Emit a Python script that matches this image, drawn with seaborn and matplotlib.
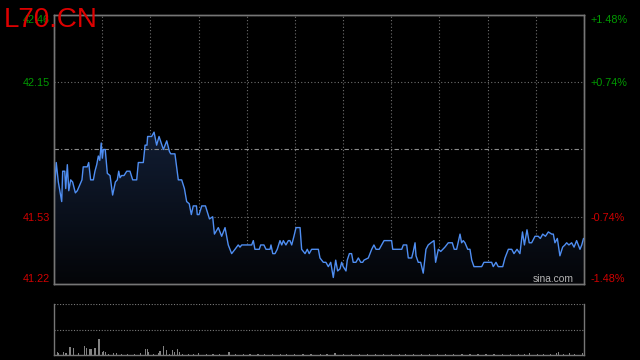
import numpy as np
import pandas as pd
import seaborn as sns
import matplotlib
matplotlib.use("Agg")
import matplotlib.pyplot as plt
from matplotlib.colors import LinearSegmentedColormap

# intraday quote, minutes since open / last price
minutes = [
    0.0, 1.4, 2.7, 4.8, 5.4, 6.7, 7.3, 8.3, 9.2, 10.4,
    11.6, 13.3, 14.5, 16.2, 17.4, 18.2, 20.7, 21.6, 22.8, 24.5,
    25.5, 26.6, 27.6, 28.5, 29.4, 30.1, 30.7, 31.9, 33.2, 34.9,
    36.5, 38.2, 39.4, 40.3, 41.1, 42.1, 43.6, 45.3, 47.3, 49.0,
    51.5, 52.5, 55.6, 56.7, 57.9, 58.3, 60.8, 62.3, 63.9, 65.4,
    68.1, 70.2, 71.9, 72.7, 75.3, 77.4, 79.5, 81.2, 82.6, 84.2,
    85.5, 86.7, 88.7, 89.2, 90.3, 92.0, 94.3, 96.8, 98.8, 99.9,
    102.3, 104.4, 106.5, 108.5, 110.6, 112.7, 114.7, 115.8, 116.9, 123.1,
    124.1, 125.1, 127.8, 128.7, 130.7, 132.0, 134.5, 135.1, 136.2, 137.6,
    139.0, 140.7, 141.8, 142.8, 144.4, 145.9, 146.9, 148.0, 149.4, 150.7,
    153.2, 154.2, 156.3, 157.7, 158.9, 160.4, 164.6, 165.6, 167.7, 169.3,
    170.8, 172.3, 173.9, 175.4, 176.6, 178.1, 179.1, 180.1, 181.8, 182.6,
    183.9, 185.3, 186.3, 188.0, 189.5, 191.0, 192.2, 193.0, 195.7, 197.8,
    199.2, 200.5, 202.5, 204.0, 205.5, 210.2, 210.9, 216.5, 217.5, 219.6,
    220.6, 222.7, 223.7, 224.8, 225.4, 226.8, 228.3, 229.9, 231.6, 233.0,
    234.7, 236.6, 237.6, 239.3, 240.8, 243.4, 245.5, 248.0, 249.2, 250.7,
    252.8, 253.8, 254.8, 255.9, 257.6, 259.0, 260.1, 261.5, 266.3, 267.7,
    269.0, 270.4, 272.5, 273.5, 275.2, 276.6, 279.4, 280.8, 282.9, 285.0,
    286.4, 288.3, 290.1, 291.7, 292.9, 294.5, 295.9, 297.4, 299.5, 301.5,
    302.8, 304.3, 306.0, 307.8, 309.9, 310.9, 311.9, 313.4, 315.0, 316.7,
    318.1, 319.2, 320.6, 322.3, 323.8, 325.4, 327.5, 328.6, 329.7,
]
prices = [
    41.62, 41.78, 41.69, 41.60, 41.74, 41.74, 41.66, 41.77, 41.65, 41.70,
    41.69, 41.64, 41.65, 41.68, 41.70, 41.76, 41.76, 41.78, 41.70, 41.70,
    41.74, 41.77, 41.81, 41.79, 41.87, 41.80, 41.84, 41.84, 41.73, 41.72,
    41.63, 41.69, 41.70, 41.74, 41.71, 41.72, 41.72, 41.74, 41.74, 41.70,
    41.70, 41.78, 41.78, 41.86, 41.86, 41.90, 41.90, 41.92, 41.86, 41.90,
    41.84, 41.88, 41.83, 41.82, 41.82, 41.70, 41.70, 41.66, 41.60, 41.59,
    41.54, 41.58, 41.58, 41.54, 41.54, 41.58, 41.58, 41.52, 41.53, 41.45,
    41.48, 41.44, 41.48, 41.40, 41.36, 41.38, 41.40, 41.39, 41.40, 41.40,
    41.42, 41.38, 41.38, 41.40, 41.40, 41.38, 41.38, 41.40, 41.36, 41.36,
    41.38, 41.42, 41.40, 41.42, 41.40, 41.42, 41.42, 41.40, 41.44, 41.48,
    41.48, 41.38, 41.36, 41.38, 41.36, 41.38, 41.38, 41.34, 41.32, 41.32,
    41.30, 41.32, 41.25, 41.33, 41.28, 41.29, 41.32, 41.30, 41.28, 41.33,
    41.36, 41.36, 41.32, 41.32, 41.34, 41.32, 41.32, 41.33, 41.34, 41.38,
    41.40, 41.38, 41.38, 41.40, 41.42, 41.42, 41.38, 41.38, 41.40, 41.40,
    41.34, 41.34, 41.37, 41.41, 41.35, 41.32, 41.32, 41.27, 41.38, 41.40,
    41.41, 41.42, 41.32, 41.38, 41.37, 41.39, 41.41, 41.41, 41.38, 41.38,
    41.45, 41.41, 41.42, 41.41, 41.38, 41.38, 41.33, 41.30, 41.30, 41.32,
    41.32, 41.32, 41.32, 41.30, 41.32, 41.30, 41.30, 41.34, 41.38, 41.38,
    41.36, 41.38, 41.36, 41.46, 41.40, 41.47, 41.41, 41.41, 41.44, 41.44,
    41.43, 41.45, 41.44, 41.46, 41.45, 41.45, 41.41, 41.43, 41.35, 41.39,
    41.40, 41.41, 41.40, 41.41, 41.39, 41.42, 41.38, 41.40, 41.43,
]

# volume bars (shares)
vol_minute = [0, 2, 3, 6, 7, 8, 10, 12, 15, 19, 20, 22, 23, 25, 26, 28, 30, 31, 32, 37,
              39, 54, 57, 58, 59, 65, 66, 68, 70, 74, 75, 77, 78, 80, 90, 109, 175, 296,
              313, 314, 321, 329]
vol_shares = [2700, 800, 500, 800, 600, 700, 2300, 2200, 500, 2600, 2000, 1700, 1700, 2200,
              2000, 4700, 800, 1300, 1000, 600, 600, 600, 1700, 1700, 1000, 700, 1200, 2700,
              1500, 1500, 800, 1700, 800, 400, 600, 800, 600, 700, 600, 800, 500, 600]
small_minute = [34, 42, 46, 50, 62, 72, 84, 87, 95, 99, 103, 113, 118, 122, 127, 131, 136,
                141, 145, 150, 155, 160, 166, 170, 180, 185, 190, 195, 200, 205, 210, 215,
                219, 224, 229, 234, 239, 244, 249, 254, 259, 264, 269, 274, 279, 284, 289,
                293, 301, 305, 309, 317, 324]
small_shares = [300, 200, 300, 200, 400, 300, 200, 300, 200, 300, 400, 300, 200, 300, 200,
                300, 200, 300, 300, 200, 300, 200, 300, 200, 300, 200, 300, 200, 300, 200,
                400, 200, 300, 200, 300, 200, 300, 200, 300, 400, 200, 300, 200, 300, 200,
                300, 200, 300, 200, 300, 400, 300, 200]

prev_close = 41.84
price_ticks = [41.22, 41.53, 42.15, 42.46]
session_minutes = 330

GREEN = "#009a00"
RED = "#d00000"
GRID = "#6e6e6e"

sns.set_theme(style="dark", rc={"figure.facecolor": "black", "axes.facecolor": "black",
                                "axes.edgecolor": "#767676", "savefig.facecolor": "black"})
plt.rcParams["font.family"] = ["Liberation Sans", "DejaVu Sans"]

fig = plt.figure(figsize=(6.4, 3.6), dpi=100)
ax = fig.add_axes([54 / 640, 1 - 284 / 360, 530 / 640, 269 / 360])
axv = fig.add_axes([54 / 640, 1 - 355 / 360, 530 / 640, 51 / 360])

df = pd.DataFrame({"minute": minutes, "price": prices})
lo, hi = price_ticks[0], price_ticks[-1]

# dark gradient under the price line
poly = ax.fill_between(df["minute"], df["price"], lo, facecolor="none", edgecolor="none")
cmap = LinearSegmentedColormap.from_list("fade", ["#040508", "#111d33"])
im = ax.imshow(np.linspace(0, 1, 256).reshape(-1, 1), extent=[0, session_minutes, lo, df["price"].max()],
               origin="lower", aspect="auto", cmap=cmap, zorder=1)
im.set_clip_path(poly.get_paths()[0], transform=ax.transData)

sns.lineplot(data=df, x="minute", y="price", ax=ax, color="#4f8ef2", linewidth=1.0,
             estimator=None, zorder=3)
ax.axhline(prev_close, color="#8c8c8c", linestyle=(0, (4, 2, 1, 2)), linewidth=0.8, zorder=2)

ax.set_xlim(0, session_minutes)
ax.set_ylim(lo, hi)
ax.set_xticks(np.arange(0, session_minutes + 1, 30))
ax.set_xticklabels([])
ax.set_yticks(price_ticks)
ax.set_yticklabels([f"{p:.2f}" for p in price_ticks])
ax.grid(True, color=GRID, linestyle=(0, (1, 2)), linewidth=0.8)
ax.tick_params(axis="both", length=0, labelsize=7.8)
ax.tick_params(axis="y", pad=3)
ax.set_xlabel("")
ax.set_ylabel("")

ax2 = ax.twinx()
ax2.set_ylim(lo, hi)
ax2.set_yticks(price_ticks)
ax2.set_yticklabels([f"{(p / prev_close - 1) * 100:+.2f}%" for p in price_ticks])
ax2.tick_params(axis="y", length=0, labelsize=7.8, pad=5)
ax2.grid(False)

for axis in (ax, ax2):
    for p, lab in zip(price_ticks, axis.get_yticklabels()):
        lab.set_color(GREEN if p > prev_close else RED)
        if p == hi:
            lab.set_va("top")
        elif p == lo:
            lab.set_va("bottom")
    for s in axis.spines.values():
        s.set_visible(True)
        s.set_color("#767676")
        s.set_linewidth(1)

ax.text(0.981, 0.019, "sina.com", transform=ax.transAxes, ha="right", va="center",
        color="#b4b4b4", fontsize=7.4, zorder=4)

# volume panel
axv.bar(vol_minute + small_minute, vol_shares + small_shares, width=0.7,
        color="#828282", linewidth=0)
axv.set_xlim(0, session_minutes)
axv.set_ylim(0, 15000)
axv.set_xticks([])
axv.set_yticks([7500, 15000])
axv.set_yticklabels([])
axv.tick_params(length=0)
axv.grid(True, axis="y", color="#7a7a7a", linestyle=(0, (1, 1.5)), linewidth=0.8)
for name, s in axv.spines.items():
    s.set_visible(name != "top")
    s.set_color("#767676")
    s.set_linewidth(1)

fig.text(4 / 640, 1 - 26.7 / 360, "L70.CN", color="#dd0000", fontsize=20, va="baseline")

fig.savefig("out.png", dpi=100, facecolor="black")
